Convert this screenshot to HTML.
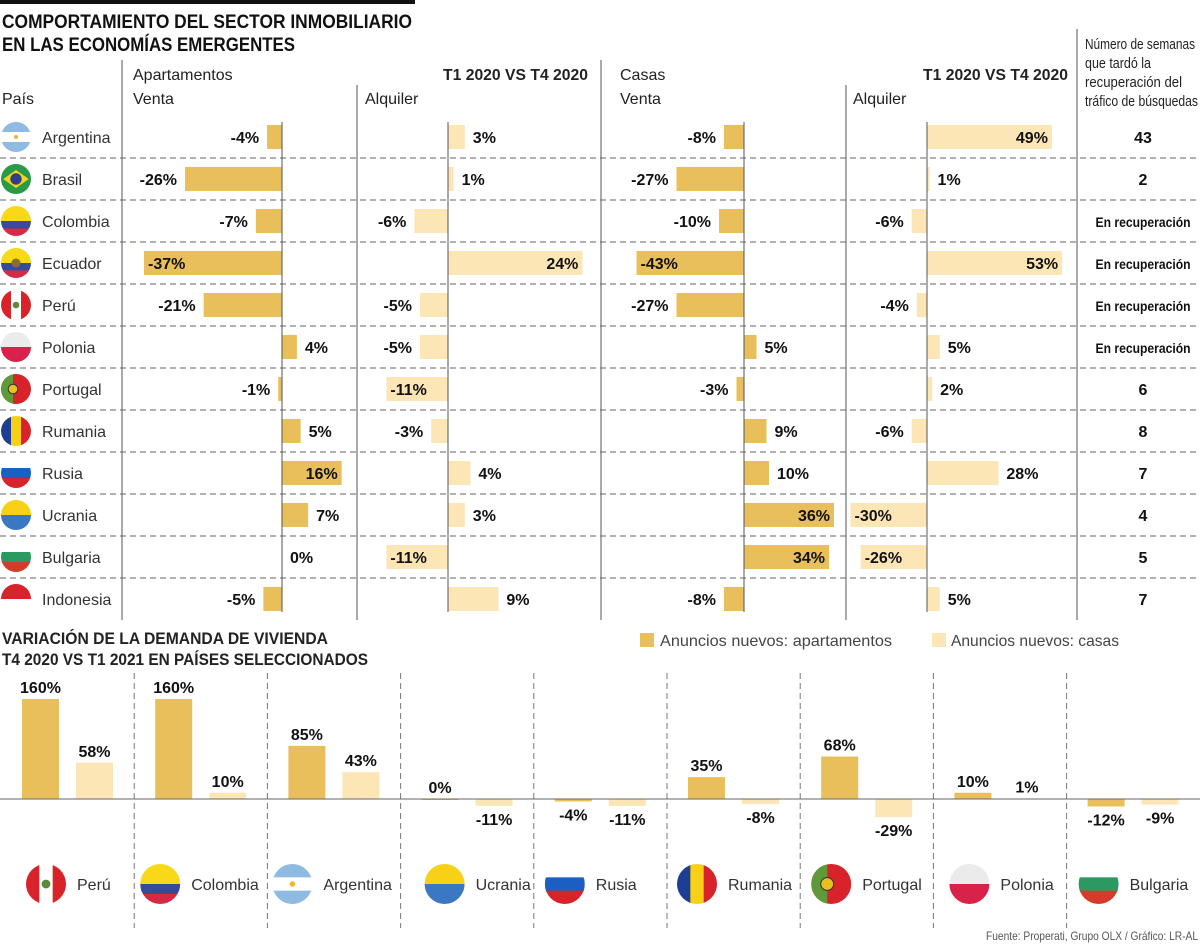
<!DOCTYPE html>
<html><head><meta charset="utf-8"><style>
html,body{margin:0;padding:0;background:#fff;}
svg{display:block;font-family:"Liberation Sans",sans-serif;}
</style></head><body>
<svg id="c" width="1200" height="944" viewBox="0 0 1200 944" xmlns="http://www.w3.org/2000/svg">
<rect x="0" y="0" width="415" height="4" fill="#111"/>
<text x="2" y="28" font-size="19" font-weight="bold" fill="#111" textLength="410" lengthAdjust="spacingAndGlyphs">COMPORTAMIENTO DEL SECTOR INMOBILIARIO</text>
<text x="2" y="51" font-size="19" font-weight="bold" fill="#111" textLength="293" lengthAdjust="spacingAndGlyphs">EN LAS ECONOMÍAS EMERGENTES</text>
<g id="topg"></g>
<g id="bot"></g>
</svg>
<script>
// ---- Top table data ----
const countries = ["Argentina","Brasil","Colombia","Ecuador","Perú","Polonia","Portugal","Rumania","Rusia","Ucrania","Bulgaria","Indonesia"];
const aptVenta = [-4,-26,-7,-37,-21,4,-1,5,16,7,0,-5];
const aptAlquiler = [3,1,-6,24,-5,-5,-11,-3,4,3,-11,9];
const casVenta = [-8,-27,-10,-43,-27,5,-3,9,10,36,34,-8];
const casAlquiler = [49,1,-6,53,-4,5,2,-6,28,-30,-26,5];
const aptVentaInside = [0,0,0,1,0,0,0,0,1,0,0,0];
const aptAlquilerInside = [0,0,0,1,0,0,1,0,0,0,1,0];
const casVentaInside = [0,0,0,1,0,0,0,0,0,1,1,0];
const casAlquilerInside = [1,0,0,1,0,0,0,0,0,1,1,0];
const weeks = ["43","2","En recuperación","En recuperación","En recuperación","En recuperación","6","8","7","4","5","7"];
// ---- Bottom chart data ----
const bCountries = ["Perú","Colombia","Argentina","Ucrania","Rusia","Rumania","Portugal","Polonia","Bulgaria"];
const bApt = [160,160,85,0,-4,35,68,10,-12];
const bCasas = [58,10,43,-11,-11,-8,-29,1,-9];

const NS="http://www.w3.org/2000/svg";
const DARK="#e8bf5b", LIGHT="#fde6b5";
function el(tag,attrs,parent,txt){const e=document.createElementNS(NS,tag);for(const k in attrs)e.setAttribute(k,attrs[k]);if(txt!==undefined)e.textContent=txt;parent.appendChild(e);return e;}

let clipId=0;
function flag(parent,name,cx,cy,r){
  const g=el('g',{},parent);
  
  
  const id='fc'+(clipId++);
  const cp=el('clipPath',{id:id},g);el('circle',{cx:cx,cy:cy,r:r},cp);
  const f=el('g',{'clip-path':'url(#'+id+')'},g);
  const x=cx-r,y=cy-r,d=2*r;
  const H=(cs)=>cs.forEach((c,i)=>el('rect',{x:x,y:y+i*d/cs.length,width:d,height:d/cs.length+0.5,fill:c},f));
  const V=(cs)=>cs.forEach((c,i)=>el('rect',{x:x+i*d/cs.length,y:y,width:d/cs.length+0.5,height:d,fill:c},f));
  switch(name){
    case "Argentina":H(["#8fbbe3","#fff","#8fbbe3"]);el('circle',{cx:cx,cy:cy,r:r*0.14,fill:"#f2b632"},f);break;
    case "Brasil":el('rect',{x:x,y:y,width:d,height:d,fill:"#2a9a48"},f);el('polygon',{points:`${cx-r*0.85},${cy} ${cx},${cy-r*0.6} ${cx+r*0.85},${cy} ${cx},${cy+r*0.6}`,fill:"#f5d516"},f);el('circle',{cx:cx,cy:cy,r:r*0.38,fill:"#2f3f8e"},f);break;
    case "Colombia":case "Ecuador":el('rect',{x:x,y:y,width:d,height:d/2,fill:"#f7d917"},f);el('rect',{x:x,y:cy,width:d,height:d/4,fill:"#3a4a9a"},f);el('rect',{x:x,y:cy+d/4,width:d,height:d/4,fill:"#d42a44"},f);
      if(name==="Ecuador")el('circle',{cx:cx,cy:cy,r:r*0.3,fill:"#8a6a3a"},f);break;
    case "Perú":V(["#d8232a","#fff","#d8232a"]);el('circle',{cx:cx,cy:cy,r:r*0.22,fill:"#5a8a3a"},f);break;
    case "Polonia":H(["#ebebeb","#d8224a"]);break;
    case "Portugal":el('rect',{x:x,y:y,width:d,height:d,fill:"#d8232a"},f);el('rect',{x:x,y:y,width:d*0.4,height:d,fill:"#5e9a3a"},f);el('circle',{cx:x+d*0.4,cy:cy,r:r*0.32,fill:"#e8c020",stroke:"#333","stroke-width":1},f);break;
    case "Rumania":V(["#1c3f94","#f8d117","#d8232a"]);break;
    case "Rusia":H(["#fff","#1c5fc4","#d8232a"]);break;
    case "Ucrania":H(["#f8d117","#3a78c4"]);break;
    case "Bulgaria":H(["#fff","#2a9a60","#d63a2a"]);break;
    case "Indonesia":H(["#d8232a","#fff"]);break;
  }
  return g;
}

const topG=document.getElementById('topg');
function T(x,y,s,opts,name){const t=el('text',Object.assign({x:x,y:y,'font-size':16,fill:'#222'},opts||{}),topG,s);return t;}
T(2,104,"País",{},"country-header");
T(133,80,"Apartamentos",{},"apartments-header");
T(133,104,"Venta",{},"apt-sale-header");
T(365,104,"Alquiler",{},"apt-rent-header");
T(588,80,"T1 2020 VS T4 2020",{'font-weight':'bold','text-anchor':'end','textLength':145,'lengthAdjust':'spacingAndGlyphs'},"apt-period-header");
T(620,80,"Casas",{},"houses-header");
T(620,104,"Venta",{},"house-sale-header");
T(853,104,"Alquiler",{},"house-rent-header");
T(1068,80,"T1 2020 VS T4 2020",{'font-weight':'bold','text-anchor':'end','textLength':145,'lengthAdjust':'spacingAndGlyphs'},"house-period-header");
["Número de semanas","que tardó la","recuperación del","tráfico de búsquedas"].forEach((s,i)=>{
  const o={'font-size':15};
  if(i===0)Object.assign(o,{textLength:110,lengthAdjust:'spacingAndGlyphs'});
  if(i===1)Object.assign(o,{textLength:66,lengthAdjust:'spacingAndGlyphs'});
  if(i===2)Object.assign(o,{textLength:97,lengthAdjust:'spacingAndGlyphs'});
  if(i===3)Object.assign(o,{textLength:113,lengthAdjust:'spacingAndGlyphs'});
  T(1085,49+i*19,s,o,"weeks-header-line"+(i+1));
});
[[122,60],[357,85],[601,60],[846,85],[1077,29]].forEach(([x,y0])=>{
  const l=el('line',{x1:x,y1:y0,x2:x,y2:620,stroke:'#555','stroke-width':1},topG);
  
});
const rowY=i=>137+i*42;
for(let i=0;i<countries.length-1;i++){
  const l=el('line',{x1:0,y1:rowY(i)+21,x2:1200,y2:rowY(i)+21,stroke:'#666','stroke-width':1,'stroke-dasharray':'6 4'},topG);
  
}
const cols=[
 {vals:aptVenta,ins:aptVentaInside,zero:282,k:3.73,color:DARK,name:'apt-sale'},
 {vals:aptAlquiler,ins:aptAlquilerInside,zero:448,k:5.6,color:LIGHT,name:'apt-rent'},
 {vals:casVenta,ins:casVentaInside,zero:744,k:2.5,color:DARK,name:'house-sale'},
 {vals:casAlquiler,ins:casAlquilerInside,zero:927,k:2.55,color:LIGHT,name:'house-rent'}
];
countries.forEach((c,i)=>{
  const y=rowY(i);
  flag(topG,c,16,y,15);
  T(42,y+6,c,{fill:'#333'},'country-label');
  cols.forEach(col=>{
    const v=col.vals[i], w=Math.abs(v)*col.k;
    const x=v<0?col.zero-w:col.zero;
    const b=el('rect',{x:x,y:y-12,width:w,height:24,fill:col.color},topG);
    
    let lx,anchor;
    if(col.ins[i]){ if(v<0){lx=x+4;anchor='start';}else{lx=x+w-4;anchor='end';} }
    else { if(v<0){lx=x-8;anchor='end';}else{lx=col.zero+w+8;anchor='start';} }
    const lt=el('text',{x:lx,y:y+6,'font-size':16,'font-weight':'bold',fill:'#111','text-anchor':anchor},topG,v+'%');
    
  });
  const wt=el('text',{x:1143,y:y+6,'font-size':weeks[i].length>3?14:16,'font-weight':'bold',fill:'#111','text-anchor':'middle'},topG,weeks[i]);
  if(weeks[i].length>3){wt.setAttribute('textLength',95);wt.setAttribute('lengthAdjust','spacingAndGlyphs');}
  
});
cols.forEach(col=>{
  const l=el('line',{x1:col.zero,y1:122,x2:col.zero,y2:612,stroke:'#555','stroke-width':1},topG);
  
});

// ---- Bottom chart ----
const bot=document.getElementById('bot');
function B(x,y,s,opts,name){const t=el('text',Object.assign({x:x,y:y,'font-size':16,fill:'#222'},opts||{}),bot,s);return t;}
B(2,644,"VARIACIÓN DE LA DEMANDA DE VIVIENDA",{'font-size':17,'font-weight':'bold',textLength:326,lengthAdjust:'spacingAndGlyphs'},"bottom-title-line1");
B(2,665,"T4 2020 VS T1 2021 EN PAÍSES SELECCIONADOS",{'font-size':17,'font-weight':'bold',textLength:366,lengthAdjust:'spacingAndGlyphs'},"bottom-title-line2");
const lg1=el('rect',{x:640,y:633,width:14,height:14,fill:DARK},bot);

B(660,646,"Anuncios nuevos: apartamentos",{fill:'#444',textLength:232,lengthAdjust:'spacingAndGlyphs'},"legend-apartments");
const lg2=el('rect',{x:932,y:633,width:14,height:14,fill:LIGHT},bot);

B(951,646,"Anuncios nuevos: casas",{fill:'#444',textLength:168,lengthAdjust:'spacingAndGlyphs'},"legend-houses");
const Z=799, K=0.625, GW=133.2;
const yb=v=>Z-v*K;
// layout: flag center offsets within each group (not data)
const flagOffsets=[46,27,26,45,32,31,32,37,33];
for(let g=1;g<bCountries.length;g++){
  const l=el('line',{x1:g*GW+1,y1:673,x2:g*GW+1,y2:928,stroke:'#777','stroke-width':1,'stroke-dasharray':'6 4'},bot);
  
}
function bar(v,x,color,name){
  const y0=Math.min(yb(v),Z),h=Math.abs(yb(v)-Z);
  const b=el('rect',{x:x,y:y0,width:37,height:Math.max(h,1),fill:color},bot);
  
  const ly=v>=0?yb(v)-6:yb(v)+19;
  const t=el('text',{x:x+18.5,y:ly,'font-size':16,'font-weight':'bold',fill:'#111','text-anchor':'middle'},bot,v+'%');
  
}
bCountries.forEach((c,g)=>{
  const gx=g*GW;
  bar(bApt[g],gx+22,DARK,'demand-apartments');
  bar(bCasas[g],gx+76,LIGHT,'demand-houses');
  const fx=gx+flagOffsets[g];
  flag(bot,c,fx,884,20);
  B(fx+31,890,c,{fill:'#333'},'bottom-country-label');
});
const zeroLine=el('line',{x1:0,y1:Z,x2:1200,y2:Z,stroke:'#666','stroke-width':1},bot);


B(1198,940,"Fuente: Properati, Grupo OLX / Gráfico: LR-AL",{'font-size':12,fill:'#555','text-anchor':'end',textLength:212,lengthAdjust:'spacingAndGlyphs'},"source-note");
</script>
</body></html>
